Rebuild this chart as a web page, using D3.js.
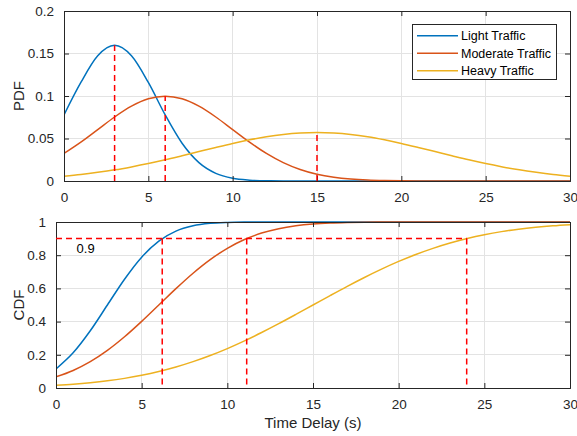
<!DOCTYPE html>
<html>
<head>
<meta charset="utf-8">
<script src="https://cdn.jsdelivr.net/npm/d3@7"></script>
<style>
  html, body { margin: 0; padding: 0; background: #fff; }
  svg { display: block; font-family: "Liberation Sans", Arial, Helvetica, sans-serif; }
</style>
</head>
<body>
<svg id="chart" width="577" height="436"></svg>
<script>
// ---- Data ----
const xs = [0,1,2,3,4,5,6,7,8,9,10,11,12,13,14,15,16,17,18,19,20,21,22,23,24,25,26,27,28,29,30];
const seriesNames = ["Light Traffic", "Moderate Traffic", "Heavy Traffic"];
const seriesColors = ["#0072BD", "#D95319", "#EDB120"];

const pdfLight = [0.0777,0.1159,0.1473,0.1596,0.1473,0.1159,0.0777,0.0444,0.0216,0.0090,0.0032,0.0010,0.0002,0.0001,0,0,0,0,0,0,0,0,0,0,0,0,0,0,0,0,0];
const pdfModerate = [0.0324,0.0457,0.0605,0.0753,0.0880,0.0967,0.0997,0.0967,0.0880,0.0753,0.0605,0.0457,0.0324,0.0216,0.0135,0.0079,0.0044,0.0023,0.0011,0.0005,0.0002,0.0001,0,0,0,0,0,0,0,0,0];
const pdfHeavy = [0.0057,0.0077,0.0102,0.0131,0.0166,0.0205,0.0249,0.0297,0.0346,0.0395,0.0442,0.0484,0.0520,0.0547,0.0564,0.0570,0.0564,0.0547,0.0520,0.0484,0.0442,0.0395,0.0346,0.0297,0.0249,0.0205,0.0166,0.0131,0.0102,0.0077,0.0057];

const cdfLight = [0.1151,0.2119,0.3446,0.5,0.6554,0.7881,0.8849,0.9452,0.9772,0.9918,0.9974,0.9993,0.9998,1,1,1,1,1,1,1,1,1,1,1,1,1,1,1,1,1,1];
const cdfModerate = [0.0668,0.1056,0.1587,0.2266,0.3085,0.4013,0.5,0.5987,0.6915,0.7734,0.8413,0.8944,0.9332,0.9599,0.9772,0.9878,0.9938,0.9970,0.9987,0.9994,0.9998,1,1,1,1,1,1,1,1,1,1];
const cdfHeavy = [0.0161,0.0228,0.0317,0.0432,0.0580,0.0766,0.0993,0.1265,0.1587,0.1957,0.2375,0.2839,0.3341,0.3875,0.4432,0.5,0.5568,0.6125,0.6659,0.7161,0.7625,0.8043,0.8413,0.8735,0.9007,0.9234,0.9420,0.9568,0.9683,0.9772,0.9839];

const peakX = [3, 6, 15];
const peakY = [0.1596, 0.0997, 0.0570];
const level = 0.9;
const levelX = [6.2, 11.13, 23.97];
const levelLabel = "0.9";

const xTicks = [0,5,10,15,20,25,30];
const pdfTicks = [0,0.05,0.1,0.15,0.2];
const pdfTickLabels = ["0","0.05","0.1","0.15","0.2"];
const cdfTicks = [0,0.2,0.4,0.6,0.8,1];
const cdfTickLabels = ["0","0.2","0.4","0.6","0.8","1"];

const xLabel = "Time Delay (s)";
const pdfLabel = "PDF";
const cdfLabel = "CDF";

// ---- Drawing ----
const svg = d3.select("#chart");
const tickFont = 13.5, labelFont = 15, legendFont = 12.5;
const axisColor = "#262626", gridColor = "#e3e3e3", red = "#FF0000";

function panel(opts) {
  const {left, right, top, bottom, yDomain, yTicks, yTickLabels, series, yLabel} = opts;
  const x = d3.scaleLinear().domain([0, 30]).range([left, right]);
  const y = d3.scaleLinear().domain(yDomain).range([bottom, top]);
  const g = svg.append("g");

  // grid
  g.append("g").selectAll("line.gx").data(xTicks).join("line")
    .attr("x1", d => x(d)).attr("x2", d => x(d)).attr("y1", top).attr("y2", bottom)
    .attr("stroke", gridColor).attr("stroke-width", 1).attr("shape-rendering", "crispEdges");
  g.append("g").selectAll("line.gy").data(yTicks).join("line")
    .attr("x1", left).attr("x2", right).attr("y1", d => y(d)).attr("y2", d => y(d))
    .attr("stroke", gridColor).attr("stroke-width", 1).attr("shape-rendering", "crispEdges");

  const line = d3.line().x((d, i) => x(xs[i])).y(d => y(d)).curve(d3.curveMonotoneX);
  const clipId = "clip" + top;
  svg.append("clipPath").attr("id", clipId).append("rect")
    .attr("x", left).attr("y", top - 2).attr("width", right - left).attr("height", bottom - top + 2);
  const plot = g.append("g").attr("clip-path", `url(#${clipId})`);

  series.forEach((s, k) => {
    plot.append("path").datum(s).attr("d", line)
      .attr("fill", "none").attr("stroke", seriesColors[k]).attr("stroke-width", 1.5);
  });

  // axes with inward ticks (box)
  const tickLen = 5;
  const axB = d3.axisBottom(x).tickValues(xTicks).tickSize(-tickLen).tickPadding(tickLen + 6).tickFormat(d3.format("d"));
  const axT = d3.axisTop(x).tickValues(xTicks).tickSize(-tickLen).tickFormat("");
  const axL = d3.axisLeft(y).tickValues(yTicks).tickSize(-tickLen).tickPadding(tickLen + 5)
    .tickFormat((d, i) => yTickLabels[i]);
  const axR = d3.axisRight(y).tickValues(yTicks).tickSize(-tickLen).tickFormat("");

  const style = sel => {
    sel.selectAll("path.domain").attr("stroke", axisColor).attr("stroke-width", 1);
    sel.selectAll(".tick line").attr("stroke", axisColor).attr("stroke-width", 1);
    sel.selectAll("text").attr("fill", "#262626").style("font-size", tickFont + "px")
      .style("font-family", "'Liberation Sans', Arial, sans-serif");
    sel.attr("font-family", null).attr("font-size", null);
  };
  g.append("g").attr("transform", `translate(0,${bottom})`).call(axB).call(style);
  g.append("g").attr("transform", `translate(0,${top})`).call(axT).call(style);
  g.append("g").attr("transform", `translate(${left},0)`).call(axL).call(style);
  g.append("g").attr("transform", `translate(${right},0)`).call(axR).call(style);

  // y label
  g.append("text")
    .attr("transform", `translate(24,${(top + bottom) / 2}) rotate(-90)`)
    .attr("text-anchor", "middle").attr("fill", "#262626")
    .style("font-size", labelFont + "px").text(yLabel);

  return {x, y, g, plot};
}

const P = panel({
  left: 64, right: 570, top: 11, bottom: 181,
  yDomain: [0, 0.2], yTicks: pdfTicks, yTickLabels: pdfTickLabels,
  series: [pdfLight, pdfModerate, pdfHeavy], yLabel: pdfLabel
});

const C = panel({
  left: 56, right: 570, top: 222, bottom: 388,
  yDomain: [0, 1], yTicks: cdfTicks, yTickLabels: cdfTickLabels,
  series: [cdfLight, cdfModerate, cdfHeavy], yLabel: cdfLabel
});

const dash = "6,4";
// PDF peak markers
P.g.selectAll("line.peak").data(peakX).join("line")
  .attr("x1", d => P.x(d)).attr("x2", d => P.x(d))
  .attr("y1", P.y(0)).attr("y2", (d, i) => P.y(peakY[i]))
  .attr("stroke", red).attr("stroke-width", 1.5).attr("stroke-dasharray", dash);

// CDF 0.9 markers
C.g.append("line")
  .attr("x1", C.x(0)).attr("x2", C.x(d3.max(levelX)))
  .attr("y1", C.y(level)).attr("y2", C.y(level))
  .attr("stroke", red).attr("stroke-width", 1.5).attr("stroke-dasharray", dash);
C.g.selectAll("line.lvl").data(levelX).join("line")
  .attr("x1", d => C.x(d)).attr("x2", d => C.x(d))
  .attr("y1", C.y(level)).attr("y2", C.y(0))
  .attr("stroke", red).attr("stroke-width", 1.5).attr("stroke-dasharray", dash);
C.g.append("text")
  .attr("x", C.x(1.2)).attr("y", C.y(0.84)).attr("dy", "0.35em")
  .attr("fill", "#000").style("font-size", "13px").text(levelLabel);

// x label
svg.append("text").attr("x", (56 + 570) / 2).attr("y", 428)
  .attr("text-anchor", "middle").attr("fill", "#262626")
  .style("font-size", labelFont + "px").text(xLabel);

// legend
const lg = svg.append("g");
lg.append("rect").attr("x", 412.5).attr("y", 24.5).attr("width", 144).attr("height", 55)
  .attr("fill", "#fff").attr("stroke", axisColor).attr("stroke-width", 1);
const rowY = [35.7, 53.3, 70.7];
seriesNames.forEach((n, i) => {
  lg.append("line").attr("x1", 417).attr("x2", 458).attr("y1", rowY[i]).attr("y2", rowY[i])
    .attr("stroke", seriesColors[i]).attr("stroke-width", 1.5);
  lg.append("text").attr("x", 461).attr("y", rowY[i]).attr("dy", "0.35em")
    .attr("fill", "#000").style("font-size", legendFont + "px").text(n);
});
</script>
</body>
</html>
